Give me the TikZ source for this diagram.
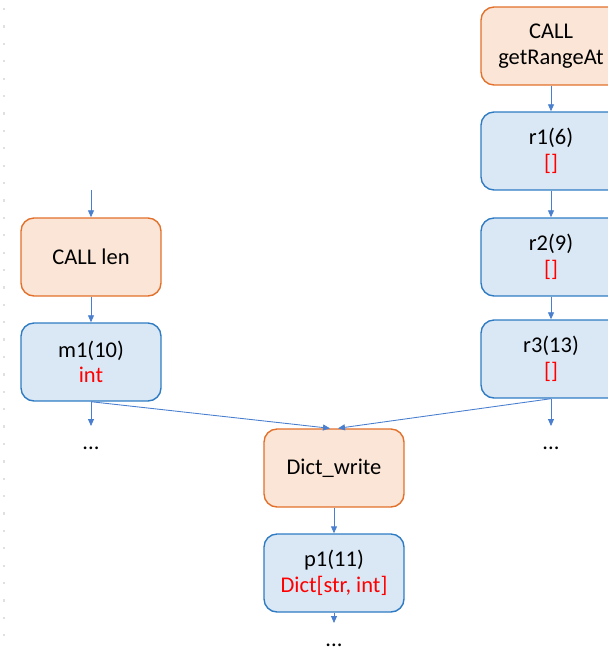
\documentclass[tikz,border=0pt]{standalone}
\usepackage{fontspec}
\setmainfont{Carlito}
\usetikzlibrary{arrows.meta}
\definecolor{callfill}{HTML}{FBE5D6}
\definecolor{calldraw}{HTML}{E2702A}
\definecolor{varfill}{HTML}{DAE8F6}
\definecolor{vardraw}{HTML}{2E7BC4}
\definecolor{flowcol}{HTML}{4A7FD0}
\newcommand{\ty}[1]{\textcolor{red}{#1}}

\begin{document}
\begin{tikzpicture}[x=0.02cm,y=-0.02cm]
\tikzstyle{box}=[rectangle,rounded corners=0.26cm,line width=0.8pt,minimum width=2.8cm,minimum height=1.56cm,align=center,font=\fontsize{12.8}{14.5}\selectfont]
\tikzstyle{callnode}=[box,draw=calldraw,fill=callfill]
\tikzstyle{varnode}=[box,draw=vardraw,fill=varfill]
\tikzstyle{flow}=[draw=flowcol,line width=0.5pt,-{Triangle[length=1.4mm,width=1.2mm]}]
\tikzstyle{more}=[anchor=north,inner sep=0pt,text height=2.8ex,text depth=0pt,font=\fontsize{12.8}{14.5}\selectfont]
\useasboundingbox (0,0) rectangle (608,652);
% faint slide margin
\draw[black!12,line width=1.3pt,dash pattern=on 1.3pt off 8.6pt] (4,8) -- (4,652);

% left chain
\coordinate (lenin) at (91,190);
\node[callnode] (len) at (91,257) {CALL len};
\node[varnode] (m1) at (91,362) {m1(10)\\\ty{int}};
\node[more] (mdots) at (91,426) {...};

% right chain
\node[callnode] (gra) at (551,46) {CALL\\getRangeAt};
\node[varnode] (r1) at (551,151) {r1(6)\\\ty{[]}};
\node[varnode] (r2) at (551,257) {r2(9)\\\ty{[]}};
\node[varnode] (r3) at (551,359) {r3(13)\\\ty{[]}};
\node[more] (rdots) at (551,426) {...};

% merge
\node[callnode] (dw) at (334,468) {Dict\_write};
\node[varnode] (p1) at (334,573) {p1(11)\\\ty{Dict[str, int]}};
\node[more] (pdots) at (334,623) {...};

\draw[flow] (lenin) -- (len);
\draw[flow] (len) -- (m1);
\draw[flow] (m1) -- (mdots);
\draw[flow] (gra) -- (r1);
\draw[flow] (r1) -- (r2);
\draw[flow] (r2) -- (r3);
\draw[flow] (r3) -- (rdots);
\draw[flow] (m1.south) -- ([xshift=-0.08cm]dw.north);
\draw[flow] (r3.south) -- ([xshift=0.08cm]dw.north);
\draw[flow] (dw) -- (p1);
\draw[flow] (p1) -- (pdots);
\end{tikzpicture}
\end{document}
